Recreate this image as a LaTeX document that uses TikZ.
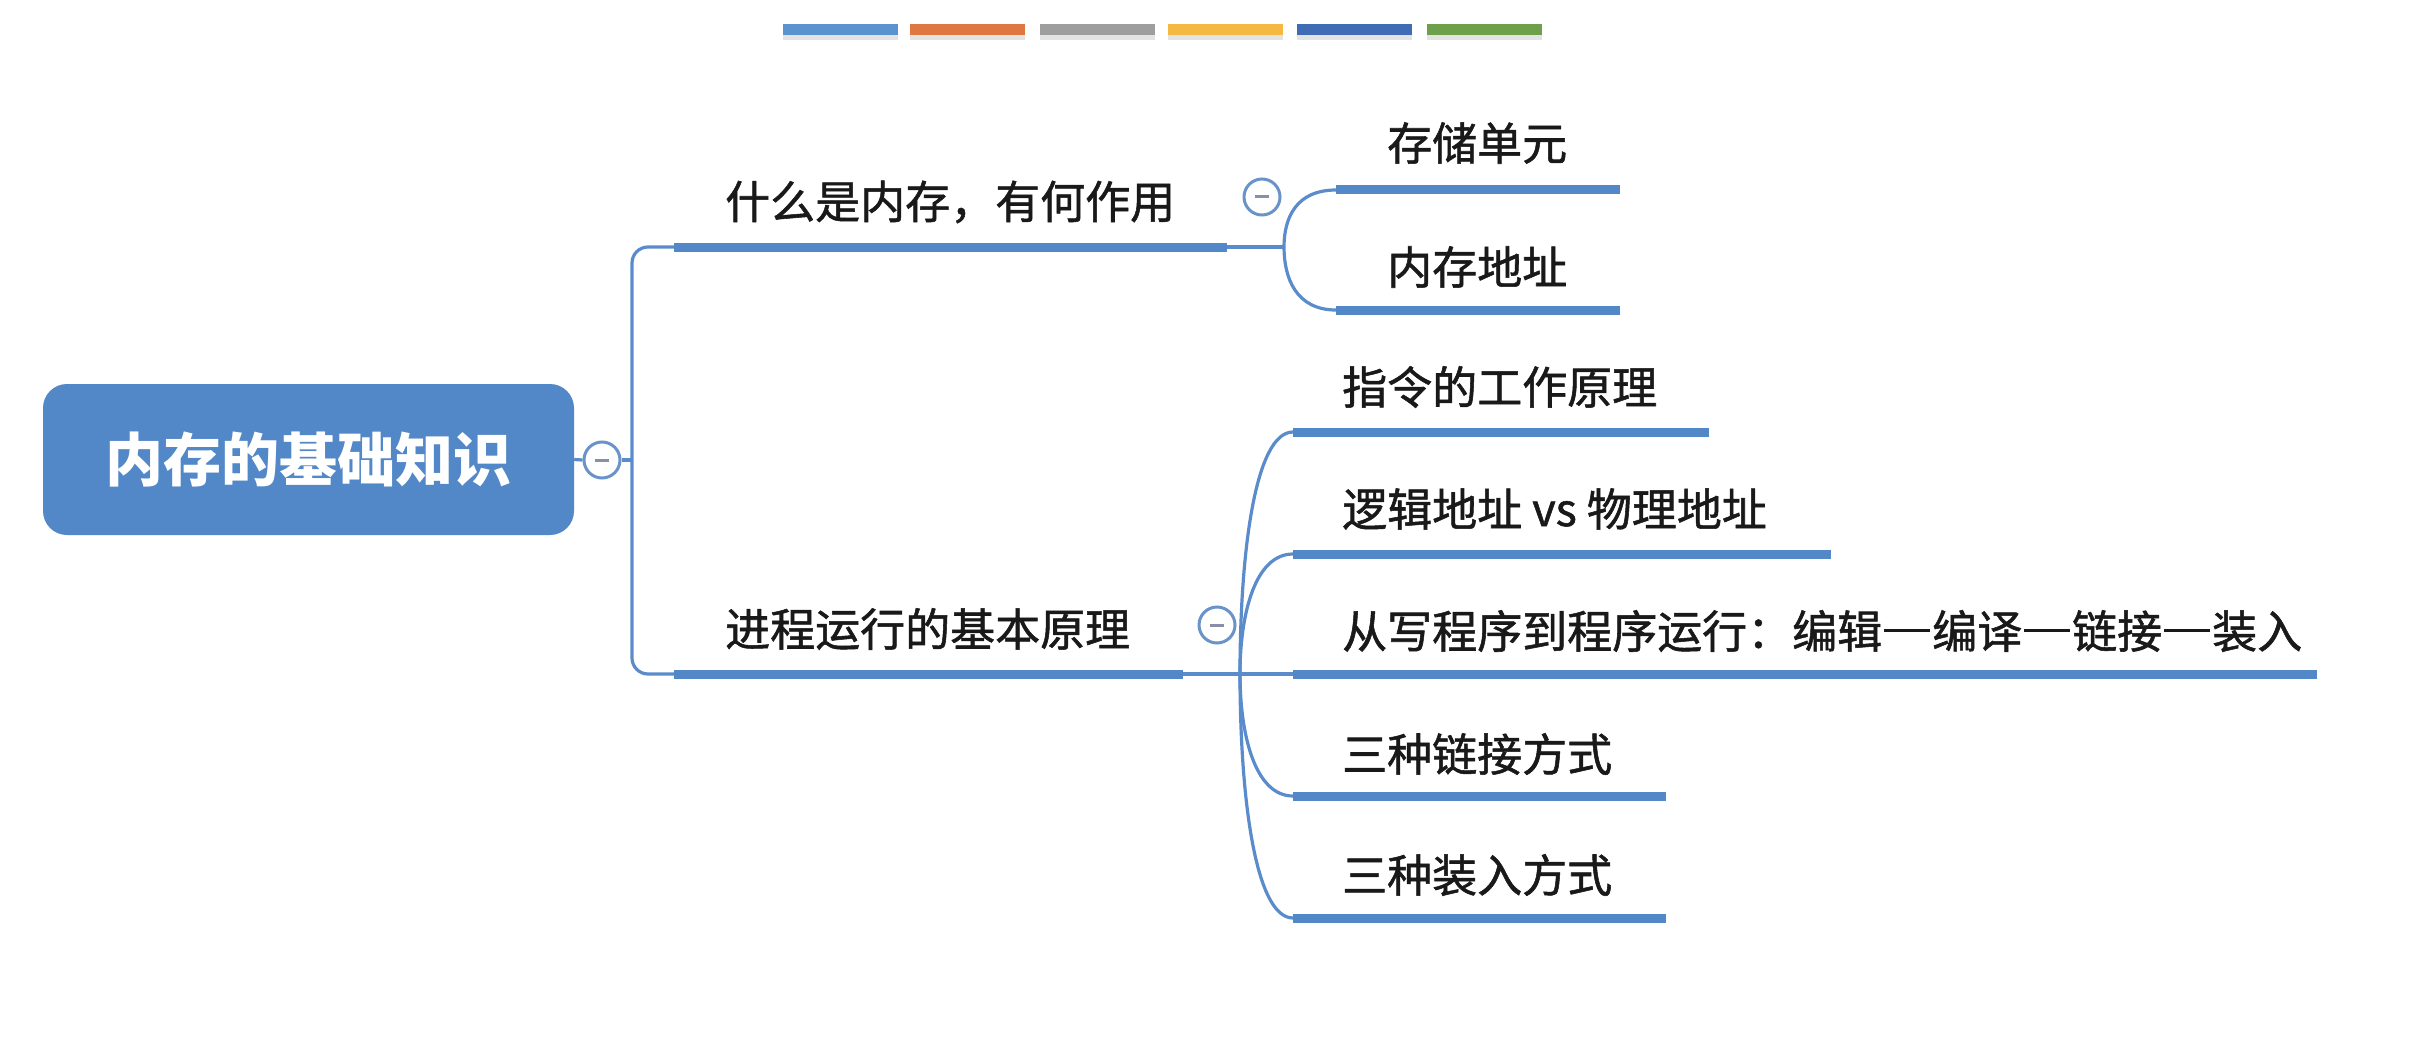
\documentclass[tikz,border=0pt]{standalone}
\usepackage{fontspec}
\newfontfamily\cjk{Noto Sans CJK SC}
\newfontfamily\cjkm{Noto Sans CJK SC}[RawFeature={embolden=1.2}]
\usetikzlibrary{shadows}
\definecolor{mmblue}{HTML}{5287C8}
\definecolor{lnblue}{HTML}{5A8CCB}
\definecolor{foldline}{HTML}{6A93C9}
\definecolor{minusgray}{HTML}{8A8FA8}
\definecolor{cbA}{HTML}{5B93CF}
\definecolor{cbB}{HTML}{DE7840}
\definecolor{cbC}{HTML}{9E9E9E}
\definecolor{cbD}{HTML}{F5B843}
\definecolor{cbE}{HTML}{3F6CB5}
\definecolor{cbF}{HTML}{6E9F4A}
\newcommand{\cjkdash}{\hspace{2pt}\rule[16pt]{46pt}{3.2pt}\hspace{2pt}}
\tikzset{
  rootbox/.style={rounded corners=24pt, fill=mmblue, minimum width=531pt, minimum height=151pt,
    text=white, font=\cjk\bfseries\fontsize{58}{70}\selectfont, inner sep=0pt},
  lbl/.style={anchor=west, inner sep=0pt, font=\cjkm\fontsize{45}{54}\selectfont, text=black!90},
  uline/.style={line width=9pt, draw=mmblue},
  conn/.style={line width=3.2pt, draw=lnblue},
  fold/.style={circle, draw=foldline, line width=3pt, fill=white, minimum size=36pt, inner sep=0pt,
    path picture={\draw[minusgray, line width=3pt]
      ([xshift=-7pt]path picture bounding box.center) -- ([xshift=7pt]path picture bounding box.center);}},
  cbar/.style={minimum width=115pt, minimum height=11pt, inner sep=0pt,
    drop shadow={opacity=0.22, shadow xshift=0pt, shadow yshift=-5pt}},
}
\begin{document}
\begin{tikzpicture}[x=1pt, y=-1pt]
\useasboundingbox (0,0) rectangle (2419,1043);
\fill[white] (0,0) rectangle (2419,1043);

% colour bars
\node[cbar, fill=cbA] (bar1) at (840.5,29.5) {};
\node[cbar, fill=cbB] (bar2) at (967,29.5) {};
\node[cbar, fill=cbC] (bar3) at (1097.5,29.5) {};
\node[cbar, fill=cbD] (bar4) at (1225.5,29.5) {};
\node[cbar, fill=cbE] (bar5) at (1354.5,29.5) {};
\node[cbar, fill=cbF] (bar6) at (1484,29.5) {};

% root
\node[rootbox] (root) at (308.5,459.5) {内存的基础知识};
\node[fold] (rf) at (602,460) {};
\coordinate (tj) at (632,460);
\draw[conn] (root.east) -- (rf.west);
\draw[conn] (rf.east) -- (tj);

% branch coordinates
\coordinate (b1s) at (674,247);
\coordinate (b1e) at (1227,247);
\coordinate (b2s) at (674,674);
\coordinate (b2e) at (1183,674);
\draw[conn, rounded corners=16pt] (b1s) -- (632,247) -- (632,674) -- (b2s);
\draw[uline] (b1s) -- (b1e);
\draw[uline] (b2s) -- (b2e);
\node[lbl] (b1) at (725,202) {什么是内存，有何作用};
\node[lbl] (b2) at (725,629) {进程运行的基本原理};
\node[fold] (f1) at (1262,197) {};
\node[fold] (f2) at (1217,625) {};

% branch 1 children
\coordinate (j1) at (1284,247);
\coordinate (s11s) at (1336,190);
\coordinate (s11e) at (1620,190);
\coordinate (s12s) at (1336,310);
\coordinate (s12e) at (1620,310);
\draw[conn] (b1e) -- (j1);
\draw[conn] (j1) .. controls (1284,218) and (1296,190) .. (s11s);
\draw[conn] (j1) .. controls (1284,278) and (1296,310) .. (s12s);
\draw[uline] (s11s) -- (s11e);
\draw[uline] (s12s) -- (s12e);
\node[lbl] (c11) at (1387,143) {存储单元};
\node[lbl] (c12) at (1387,267) {内存地址};

% branch 2 children
\coordinate (j2) at (1240,674);
\coordinate (s21s) at (1293,432);
\coordinate (s21e) at (1709,432);
\coordinate (s22s) at (1293,554);
\coordinate (s22e) at (1831,554);
\coordinate (s23s) at (1293,674);
\coordinate (s23e) at (2317,674);
\coordinate (s24s) at (1293,796);
\coordinate (s24e) at (1666,796);
\coordinate (s25s) at (1293,918);
\coordinate (s25e) at (1666,918);
\draw[conn] (b2e) -- (j2);
\draw[conn] (j2) .. controls (1240,553) and (1255,432) .. (s21s);
\draw[conn] (j2) .. controls (1240,614) and (1255,554) .. (s22s);
\draw[conn] (j2) -- (s23s);
\draw[conn] (j2) .. controls (1240,735) and (1255,796) .. (s24s);
\draw[conn] (j2) .. controls (1240,796) and (1255,918) .. (s25s);
\draw[uline] (s21s) -- (s21e);
\draw[uline] (s22s) -- (s22e);
\draw[uline] (s23s) -- (s23e);
\draw[uline] (s24s) -- (s24e);
\draw[uline] (s25s) -- (s25e);
\node[lbl] (c21) at (1342,387) {指令的工作原理};
\node[lbl] (c22) at (1342,509) {逻辑地址 vs 物理地址};
\node[lbl] (c23) at (1342,631) {从写程序到程序运行：编辑\cjkdash 编译\cjkdash 链接\cjkdash 装入};
\node[lbl] (c24) at (1342,754) {三种链接方式};
\node[lbl] (c25) at (1342,875) {三种装入方式};
\end{tikzpicture}
\end{document}
